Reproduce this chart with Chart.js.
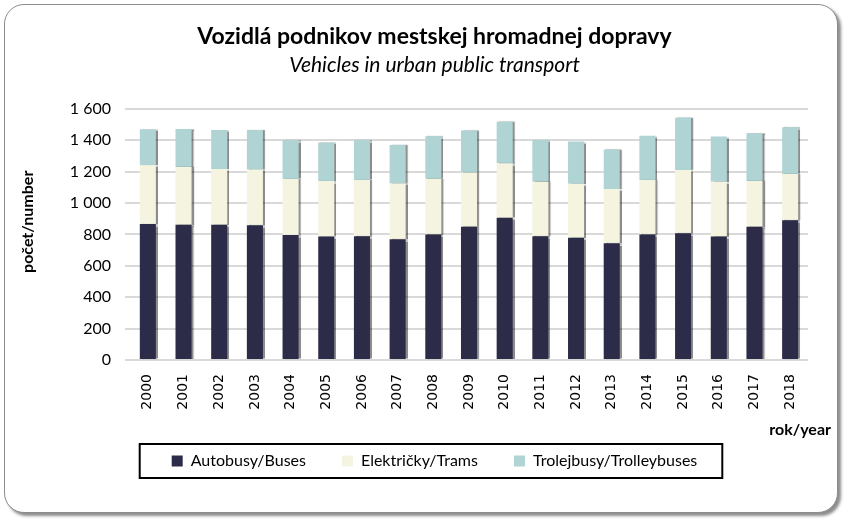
<!DOCTYPE html>
<html>
<head>
<meta charset="utf-8">
<script src="https://cdn.jsdelivr.net/npm/chart.js@4.4.1/dist/chart.umd.min.js"></script>
<style>
  html, body { margin: 0; padding: 0; background: #fff; }
  #wrap { position: relative; width: 853px; height: 529px; }
  #frame {
    position: absolute; left: 4px; top: 4px; width: 832px; height: 507px;
    border: 1.5px solid #8c8c8c; border-radius: 20px; background: #fff;
    box-shadow: 3px 3px 3px rgba(0,0,0,0.45);
  }
  #chart { position: absolute; left: 0; top: 0; }
</style>
</head>
<body>
<div id="wrap">
  <div id="frame"></div>
  <canvas id="chart" width="853" height="529"></canvas>
</div>
<script>
const years = ["2000","2001","2002","2003","2004","2005","2006","2007","2008","2009",
  "2010","2011","2012","2013","2014","2015","2016","2017","2018"];
const buses = [866, 862, 862, 858, 796, 786, 788, 769, 800, 849, 906, 788, 779, 743, 800, 807, 786, 849, 890];
const trams = [374, 367, 355, 356, 357, 354, 359, 356, 355, 346, 347, 348, 344, 346, 347, 403, 350, 291, 295];
const trolleys = [230, 242, 248, 251, 248, 246, 254, 245, 270, 266, 265, 267, 268, 251, 282, 333, 287, 304, 297];
const yTicks = [0, 200, 400, 600, 800, 1000, 1200, 1400, 1600];

const FONT = "Lato, 'Open Sans', sans-serif";

function fmt(v) {
  if (v >= 1000) return Math.floor(v / 1000) + " " + String(v % 1000).padStart(3, "0");
  return String(v);
}

// soft shadow on the right side of each bar
const barShadow = {
  id: "barShadow",
  beforeDatasetDraw(chart) {
    const ctx = chart.ctx;
    ctx.save();
    ctx.shadowColor = "rgba(0,0,0,0.45)";
    ctx.shadowOffsetX = 2;
    ctx.shadowOffsetY = 0;
    ctx.shadowBlur = 1;
  },
  afterDatasetDraw(chart) {
    chart.ctx.restore();
  },
};

// axis titles and the box round the legend
const extras = {
  id: "extras",
  afterDraw(chart) {
    const ctx = chart.ctx;
    const area = chart.chartArea;
    ctx.save();
    ctx.fillStyle = "#000";
    ctx.font = "bold 16px " + FONT;
    ctx.textAlign = "right";
    ctx.textBaseline = "middle";
    ctx.fillText("rok/year", area.right + 23, area.bottom + 70);

    ctx.translate(area.left - 102, area.top + 113);
    ctx.rotate(-Math.PI / 2);
    ctx.textAlign = "center";
    ctx.fillText("počet/number", 0, 0);
    ctx.restore();

    const boxes = chart.legend.legendHitBoxes;
    if (boxes && boxes.length) {
      const l = Math.min(...boxes.map(b => b.left));
      const r = Math.max(...boxes.map(b => b.left + b.width));
      const t = boxes[0].top, h = boxes[0].height;
      ctx.save();
      ctx.strokeStyle = "#000";
      ctx.lineWidth = 2;
      ctx.strokeRect(l - 32, t + h / 2 - 17, r - l + 57, 34);
      ctx.restore();
    }
  },
};

new Chart(document.getElementById("chart"), {
  type: "bar",
  data: {
    labels: years,
    datasets: [
      { label: "Autobusy/Buses", data: buses, backgroundColor: "#2c2b48" },
      { label: "Električky/Trams", data: trams, backgroundColor: "#f4f4e1" },
      { label: "Trolejbusy/Trolleybuses", data: trolleys, backgroundColor: "#afd4d3" },
    ],
  },
  options: {
    responsive: false,
    animation: false,
    layout: { padding: { left: 16, right: 0, top: 0, bottom: 50 } },
    datasets: { bar: { categoryPercentage: 1, barPercentage: 0.45 } },
    scales: {
      x: {
        stacked: true,
        grid: { display: false },
        border: { display: false },
        ticks: {
          minRotation: 90, maxRotation: 90, padding: 6,
          color: "#000",
          font: { family: "'DejaVu Sans', sans-serif", size: 14 },
        },
        afterFit(s) { s.height = 57; },
      },
      y: {
        stacked: true,
        min: 0, max: 1600,
        afterBuildTicks(s) { s.ticks = yTicks.map(v => ({ value: v })); },
        grid: { color: "#d9d9d9", lineWidth: 2, tickLength: 5 },
        border: { display: false },
        ticks: {
          padding: 14,
          color: "#000",
          font: { family: FONT, size: 16 },
          callback: v => fmt(v),
        },
        afterFit(s) { s.width = 114; },
      },
      y2: {
        position: "right",
        display: true,
        min: 0, max: 1600,
        grid: { display: false },
        border: { display: false },
        ticks: { display: false },
        afterFit(s) { s.width = 45; },
      },
    },
    plugins: {
      title: {
        display: true,
        text: "Vozidlá podnikov mestskej hromadnej dopravy",
        color: "#000",
        font: { family: FONT, size: 23, weight: "bold", lineHeight: 1.2 },
        padding: { top: 23, bottom: 1 },
      },
      subtitle: {
        display: true,
        text: "Vehicles in urban public transport",
        color: "#000",
        font: { family: FONT, size: 21, style: "italic", lineHeight: 1.2 },
        padding: { top: 1, bottom: 31 },
      },
      legend: {
        position: "bottom",
        labels: {
          boxWidth: 11, boxHeight: 11, padding: 36,
          color: "#000",
          font: { family: FONT, size: 16 },
        },
      },
      tooltip: { enabled: false },
    },
  },
  plugins: [barShadow, extras],
});
</script>
</body>
</html>
